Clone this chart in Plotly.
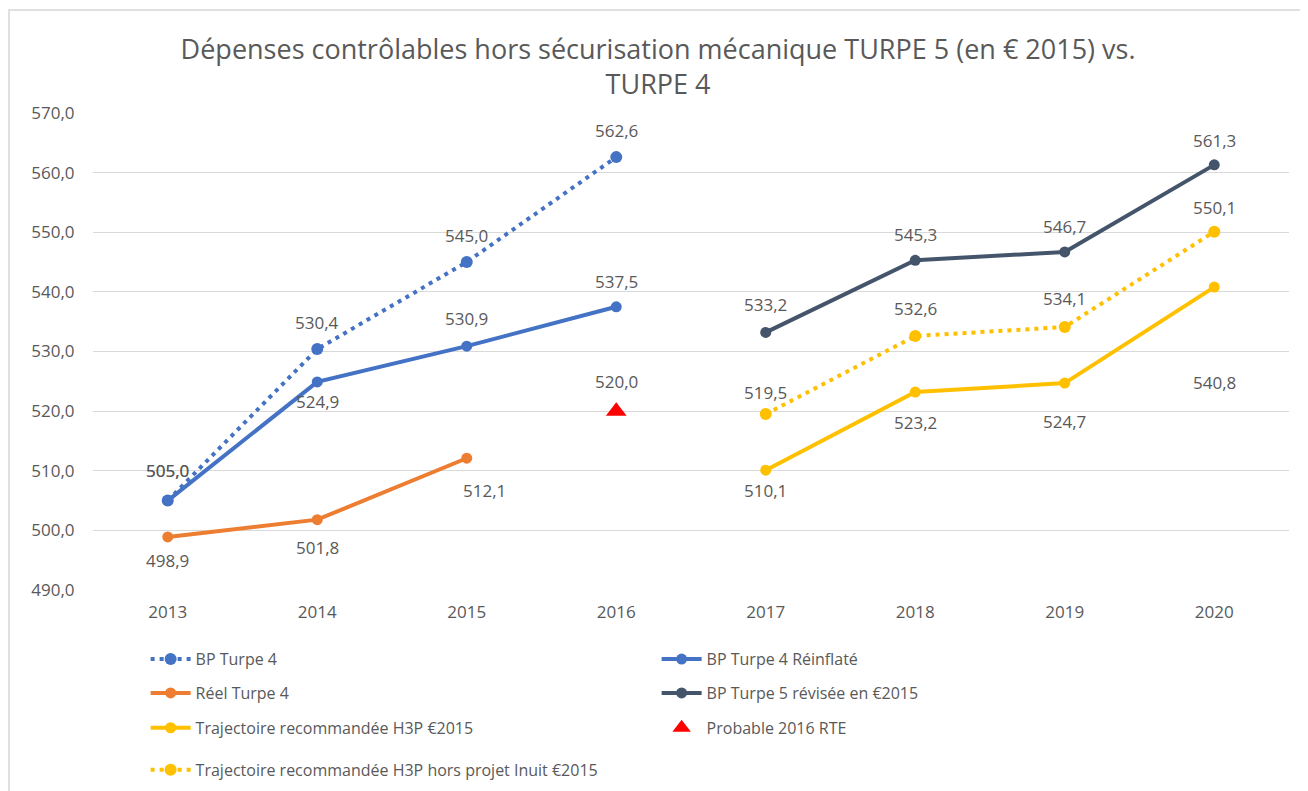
import plotly.graph_objects as go

years = ["2013", "2014", "2015", "2016", "2017", "2018", "2019", "2020"]

bp_t4_x = ["2013", "2014", "2015", "2016"]
bp_t4 = [505.0, 530.4, 545.0, 562.6]

bp_t4_reinf_x = ["2013", "2014", "2015", "2016"]
bp_t4_reinf = [505.0, 524.9, 530.9, 537.5]

reel_t4_x = ["2013", "2014", "2015"]
reel_t4 = [498.9, 501.8, 512.1]

bp_t5_x = ["2017", "2018", "2019", "2020"]
bp_t5 = [533.2, 545.3, 546.7, 561.3]

h3p_x = ["2017", "2018", "2019", "2020"]
h3p = [510.1, 523.2, 524.7, 540.8]

rte_x = ["2016"]
rte = [520.0]

inuit_x = ["2017", "2018", "2019", "2020"]
inuit = [519.5, 532.6, 534.1, 550.1]

y_ticks = [490, 500, 510, 520, 530, 540, 550, 560, 570]

BLUE = "#4472C4"
ORANGE = "#ED7D31"
DARK = "#44546A"
YELLOW = "#FFC000"
RED = "#FF0000"
TXT = "#595959"
FONT = "Open Sans"
LBL_SIZE = 17
DOT = "4px,5px"

# page offset of the default HTML body margin
OFF = 8
ML, MR, MT, MB = 93 - OFF, 19 + OFF, 113 - OFF, 201 + OFF
PW, PH = 1308 - ML - MR, 791 - MT - MB


def fmt(v):
    return f"{v:.1f}".replace(".", ",")


fig = go.Figure()
annotations = []


def add_labels(x, y, shifts):
    for xi, yi, (dx, dy) in zip(x, y, shifts):
        annotations.append(dict(
            # category axis: use the category index so "2013" is not read as a number
            x=years.index(xi), y=yi, xref="x", yref="y", text=fmt(yi), showarrow=False,
            xanchor="center", yanchor="middle", xshift=dx, yshift=dy,
            font=dict(family=FONT, size=LBL_SIZE, color=TXT),
        ))


def line(name, x, y, color, dash, legend, msize, shifts):
    fig.add_trace(go.Scatter(
        x=x, y=y, name=name, mode="lines+markers",
        line=dict(color=color, width=4, dash=dash),
        marker=dict(color=color, size=msize),
        legend=legend, hoverinfo="skip",
    ))
    add_labels(x, y, shifts)


UP = (0, 27)

line("BP Turpe 4", bp_t4_x, bp_t4, BLUE, DOT, "legend", 12,
     [(0, 30), UP, UP, UP])
line("BP Turpe 4 Réinflaté", bp_t4_reinf_x, bp_t4_reinf, BLUE, "solid", "legend", 11,
     [(0, 30), (0, -20), (0, 28), (0, 25)])
line("Réel Turpe 4", reel_t4_x, reel_t4, ORANGE, "solid", "legend2", 11,
     [(0, -24), (0, -28), (18, -32)])
line("BP Turpe 5 révisée en €2015", bp_t5_x, bp_t5, DARK, "solid", "legend2", 11,
     [(0, 28), (0, 26), (0, 25), (0, 24)])
line("Trajectoire recommandée H3P €2015", h3p_x, h3p, YELLOW, "solid", "legend3", 11,
     [(0, -20), (0, -30), (0, -38), (0, -95)])

fig.add_trace(go.Scatter(
    x=rte_x, y=rte, name="Probable 2016 RTE", mode="markers",
    marker=dict(color=RED, size=18, symbol="triangle-up"),
    legend="legend3", hoverinfo="skip",
))
add_labels(rte_x, rte, [(0, 30)])

line("Trajectoire recommandée H3P hors projet Inuit €2015", inuit_x, inuit, YELLOW,
     DOT, "legend4", 12, [(0, 22), (0, 28), (0, 29), (0, 24)])

leg_common = dict(orientation="h", xanchor="left", yanchor="middle",
                  entrywidth=456, entrywidthmode="pixels",
                  font=dict(family=FONT, size=16, color=TXT),
                  bgcolor="rgba(0,0,0,0)", itemwidth=40)

fig.update_layout(
    width=1308, height=791,
    paper_bgcolor="white", plot_bgcolor="white",
    margin=dict(l=ML, r=MR, t=MT, b=MB),
    separators=", ",
    font=dict(family=FONT, color=TXT),
    title=dict(
        text="Dépenses contrôlables hors sécurisation mécanique TURPE 5 (en € 2015) vs.<br>TURPE 4",
        x=0.497, xanchor="center", y=0.936, yanchor="top",
        font=dict(family=FONT, size=27, color=TXT),
    ),
    xaxis=dict(type="category", categoryorder="array", categoryarray=years,
               range=[-0.5, 7.5], showgrid=False, zeroline=False, showline=False,
               ticks="outside", ticklen=7, tickcolor="rgba(0,0,0,0)",
               tickfont=dict(family=FONT, size=17, color=TXT)),
    yaxis=dict(range=[490, 570], tickvals=y_ticks, tickformat=".1f",
               showgrid=True, gridcolor="#D9D9D9", gridwidth=1, zeroline=False,
               showline=False, ticks="outside", ticklen=14, tickcolor="rgba(0,0,0,0)",
               tickfont=dict(family=FONT, size=17, color=TXT)),
    legend=dict(x=0.044, y=-0.145, **leg_common),
    legend2=dict(x=0.044, y=-0.216, **leg_common),
    legend3=dict(x=0.044, y=-0.289, **leg_common),
    legend4=dict(x=0.044, y=-0.377, **leg_common),
    showlegend=True,
    annotations=annotations,
    shapes=[dict(type="rect", xref="paper", yref="paper",
                 x0=(1 - ML) / PW, x1=(1299 - ML) / PW,
                 y0=-0.5, y1=1 + (MT - 2) / PH,
                 line=dict(color="#D6D6D6", width=1.5), layer="below")],
)

fig.write_html("out.html")
